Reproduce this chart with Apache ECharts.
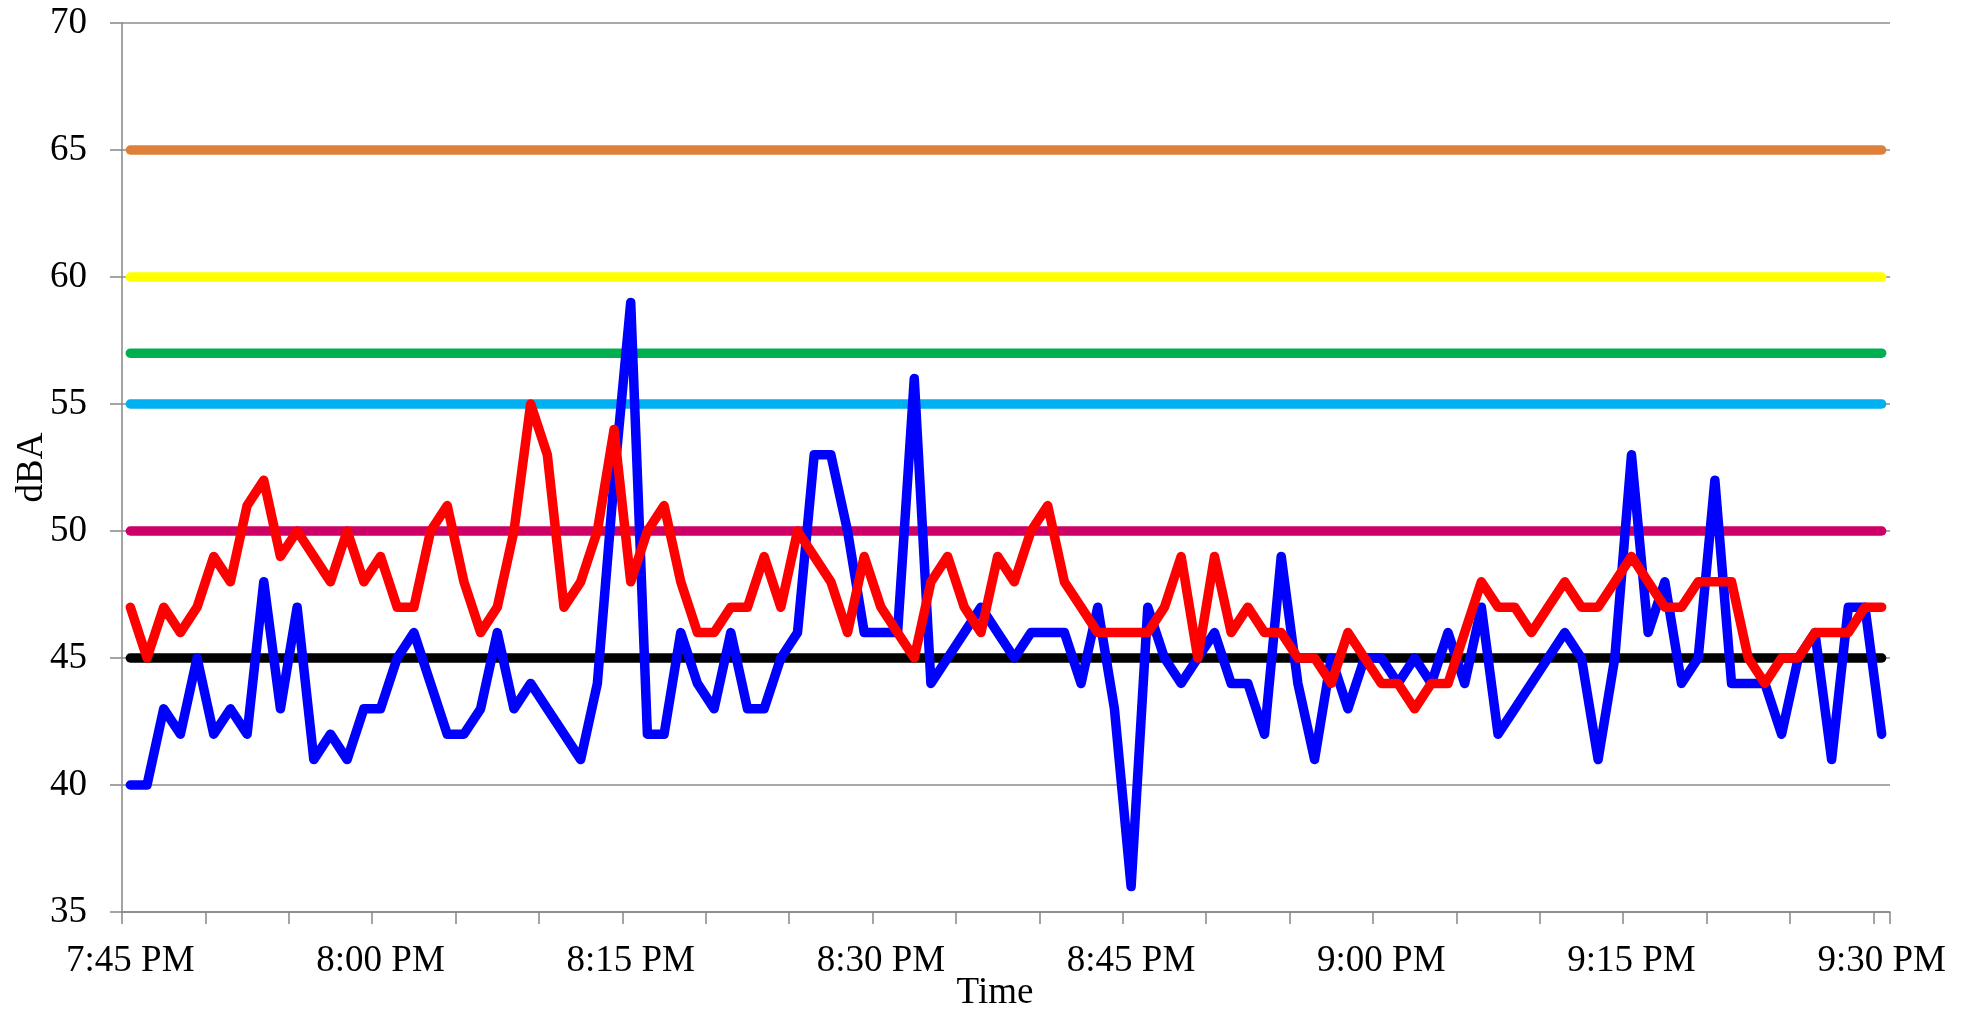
<!DOCTYPE html>
<html>
<head>
<meta charset="utf-8">
<script src="https://cdn.jsdelivr.net/npm/echarts@6/dist/echarts.min.js"></script>
<style>
  html, body { margin: 0; padding: 0; background: #ffffff; }
  #chart { width: 1972px; height: 1010px; }
</style>
</head>
<body>
<div id="chart"></div>
<script>
// One category per minute, 7:45 PM to 9:30 PM
const categories = [
  '7:45 PM','7:46 PM','7:47 PM','7:48 PM','7:49 PM','7:50 PM','7:51 PM','7:52 PM','7:53 PM','7:54 PM',
  '7:55 PM','7:56 PM','7:57 PM','7:58 PM','7:59 PM','8:00 PM','8:01 PM','8:02 PM','8:03 PM','8:04 PM',
  '8:05 PM','8:06 PM','8:07 PM','8:08 PM','8:09 PM','8:10 PM','8:11 PM','8:12 PM','8:13 PM','8:14 PM',
  '8:15 PM','8:16 PM','8:17 PM','8:18 PM','8:19 PM','8:20 PM','8:21 PM','8:22 PM','8:23 PM','8:24 PM',
  '8:25 PM','8:26 PM','8:27 PM','8:28 PM','8:29 PM','8:30 PM','8:31 PM','8:32 PM','8:33 PM','8:34 PM',
  '8:35 PM','8:36 PM','8:37 PM','8:38 PM','8:39 PM','8:40 PM','8:41 PM','8:42 PM','8:43 PM','8:44 PM',
  '8:45 PM','8:46 PM','8:47 PM','8:48 PM','8:49 PM','8:50 PM','8:51 PM','8:52 PM','8:53 PM','8:54 PM',
  '8:55 PM','8:56 PM','8:57 PM','8:58 PM','8:59 PM','9:00 PM','9:01 PM','9:02 PM','9:03 PM','9:04 PM',
  '9:05 PM','9:06 PM','9:07 PM','9:08 PM','9:09 PM','9:10 PM','9:11 PM','9:12 PM','9:13 PM','9:14 PM',
  '9:15 PM','9:16 PM','9:17 PM','9:18 PM','9:19 PM','9:20 PM','9:21 PM','9:22 PM','9:23 PM','9:24 PM',
  '9:25 PM','9:26 PM','9:27 PM','9:28 PM','9:29 PM','9:30 PM'
];

const blueValues = [
  40,40,43,42,45,42,43,42,48,43,
  47,41,42,41,43,43,45,46,44,42,
  42,43,46,43,44,43,42,41,44,52,
  59,42,42,46,44,43,46,43,43,45,
  46,53,53,50,46,46,46,56,44,45,
  46,47,46,45,46,46,46,44,47,43,
  36,47,45,44,45,46,44,44,42,49,
  44,41,45,43,45,45,44,45,44,46,
  44,47,42,43,44,45,46,45,41,45,
  53,46,48,44,45,52,44,44,44,42,
  45,46,41,47,47,42
];

const redValues = [
  47,45,47,46,47,49,48,51,52,49,
  50,49,48,50,48,49,47,47,50,51,
  48,46,47,50,55,53,47,48,50,54,
  48,50,51,48,46,46,47,47,49,47,
  50,49,48,46,49,47,46,45,48,49,
  47,46,49,48,50,51,48,47,46,46,
  46,46,47,49,45,49,46,47,46,46,
  45,45,44,46,45,44,44,43,44,44,
  46,48,47,47,46,47,48,47,47,48,
  49,48,47,47,48,48,48,45,44,45,
  45,46,46,46,47,47
];

// Reference (limit) levels in dBA
const limitLevels = [65, 60, 57, 55, 50, 45];
const limitColors = ['#DE8039', '#FFFF00', '#00B050', '#00B0F0', '#CC0066', '#000000'];

const yTicks = { min: 35, max: 70, interval: 5 };

const FONT = "'Liberation Serif', 'Times New Roman', serif";
const LW = 9.5;

const series = [];
limitLevels.forEach((lv, k) => {
  series.push({
    type: 'line',
    data: [[categories[0], lv], [categories[categories.length - 1], lv]],
    symbol: 'none',
    silent: true,
    lineStyle: { color: limitColors[k], width: LW, cap: 'round', join: 'round' },
    z: 2
  });
});
series.push({
  type: 'line', data: blueValues, symbol: 'none',
  lineStyle: { color: '#0000FF', width: LW, cap: 'round', join: 'round' }, z: 3
});
series.push({
  type: 'line', data: redValues, symbol: 'none',
  lineStyle: { color: '#FF0000', width: LW, cap: 'round', join: 'round' }, z: 4
});

const chart = echarts.init(document.getElementById('chart'), null, { renderer: 'canvas' });
chart.setOption({
  animation: false,
  backgroundColor: '#ffffff',
  grid: { left: 122, right: 82, top: 23, bottom: 98, containLabel: false, outerBoundsMode: 'none' },
  xAxis: {
    type: 'category',
    data: categories,
    boundaryGap: true,
    name: 'Time',
    nameLocation: 'middle',
    nameGap: 63,
    nameMoveOverlap: false,
    nameTextStyle: { fontFamily: FONT, fontSize: 37, color: '#000', padding: [0, 22, 0, 0] },
    axisLine: { lineStyle: { color: '#868686', width: 1.5 } },
    axisTick: { show: true, interval: 4, length: 12, inside: false, lineStyle: { color: '#868686', width: 1.5 } },
    axisLabel: { interval: 14, margin: 31, fontFamily: FONT, fontSize: 37, color: '#000' },
    splitLine: { show: false }
  },
  yAxis: {
    type: 'value',
    min: yTicks.min, max: yTicks.max, interval: yTicks.interval,
    name: 'dBA',
    nameLocation: 'middle',
    nameGap: 71,
    nameMoveOverlap: false,
    nameTextStyle: { fontFamily: FONT, fontSize: 37, color: '#000' },
    axisLine: { show: true, lineStyle: { color: '#868686', width: 1.5 } },
    axisTick: { show: true, length: 12, lineStyle: { color: '#868686', width: 1.5 } },
    axisLabel: { margin: 35, fontFamily: FONT, fontSize: 37, color: '#000' },
    splitLine: { show: true, lineStyle: { color: '#8c8c8c', width: 1.5 } }
  },
  series: series
});
</script>
</body>
</html>
